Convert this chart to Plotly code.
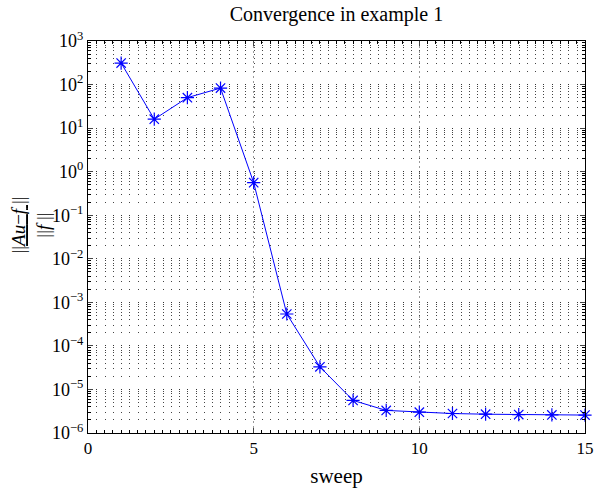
import plotly.graph_objects as go

sweep = [1, 2, 3, 4, 5, 6, 7, 8, 9, 10, 11, 12, 13, 14, 15]
residual = [312, 16, 50, 83, 0.56, 5.4e-4, 3.3e-5, 5.6e-6, 3.3e-6, 3.0e-6,
            2.8e-6, 2.7e-6, 2.65e-6, 2.6e-6, 2.58e-6]
x_ticks = [0, 5, 10, 15]
y_exps = [-6, -5, -4, -3, -2, -1, 0, 1, 2, 3]

FONT = "Liberation Serif"

y_tickvals = [10.0 ** e for e in y_exps]
y_ticktext = ["10<sup>%s</sup>" % (str(e).replace("-", "−")) for e in y_exps]

fig = go.Figure()
fig.add_trace(go.Scatter(
    x=sweep, y=residual, mode="lines+markers",
    line=dict(color="#0000ff", width=1),
    marker=dict(symbol="asterisk-open", size=11, color="#0000ff",
                line=dict(color="#0000ff", width=1.2)),
    showlegend=False, cliponaxis=False,
))

HDOT = "1px,7.28px"

fig.update_layout(
    width=594, height=488,
    margin=dict(l=88, r=9, t=41, b=55, autoexpand=False),
    paper_bgcolor="white", plot_bgcolor="white",
    font=dict(family=FONT, color="black", size=18),
    title=dict(text="Convergence in example 1", x=0.5, xref="paper",
               xanchor="center", y=0.972, yanchor="middle",
               font=dict(size=20, family=FONT)),
    xaxis=dict(
        range=[0, 15], tickvals=x_ticks, ticks="inside", ticklen=5,
        showline=True, linecolor="black", linewidth=1, mirror="ticks",
        showgrid=True, gridcolor="#999", griddash="2px,3px", gridwidth=1,
        zeroline=False, ticklabeloverflow="allow", automargin=False,
        minor=dict(dtick=0.25, ticks="inside", ticklen=3, tickcolor="black",
                   showgrid=False),
        title=dict(text="sweep", standoff=12, font=dict(size=21)),
        tickfont=dict(size=17),
    ),
    yaxis=dict(
        type="log", range=[-6, 3], tickvals=y_tickvals, ticktext=y_ticktext,
        ticks="inside", ticklen=5, automargin=False,
        showline=True, linecolor="black", linewidth=1, mirror="ticks",
        showgrid=True, gridcolor="#333", griddash=HDOT, gridwidth=1,
        zeroline=False,
        minor=dict(dtick="D1", ticks="inside", ticklen=3, tickcolor="black",
                   showgrid=True, gridcolor="#444", griddash=HDOT),
        tickfont=dict(size=18),
    ),
)

fig.add_annotation(
    text="<u>||<i>Au</i>−<i>f</i> ||</u><br>||<i>f</i> ||",
    xref="paper", yref="paper", x=-0.114, y=0.53,
    xanchor="center", yanchor="middle", textangle=-90, showarrow=False,
    font=dict(size=19, family=FONT),
)

fig.write_html("out.html")
